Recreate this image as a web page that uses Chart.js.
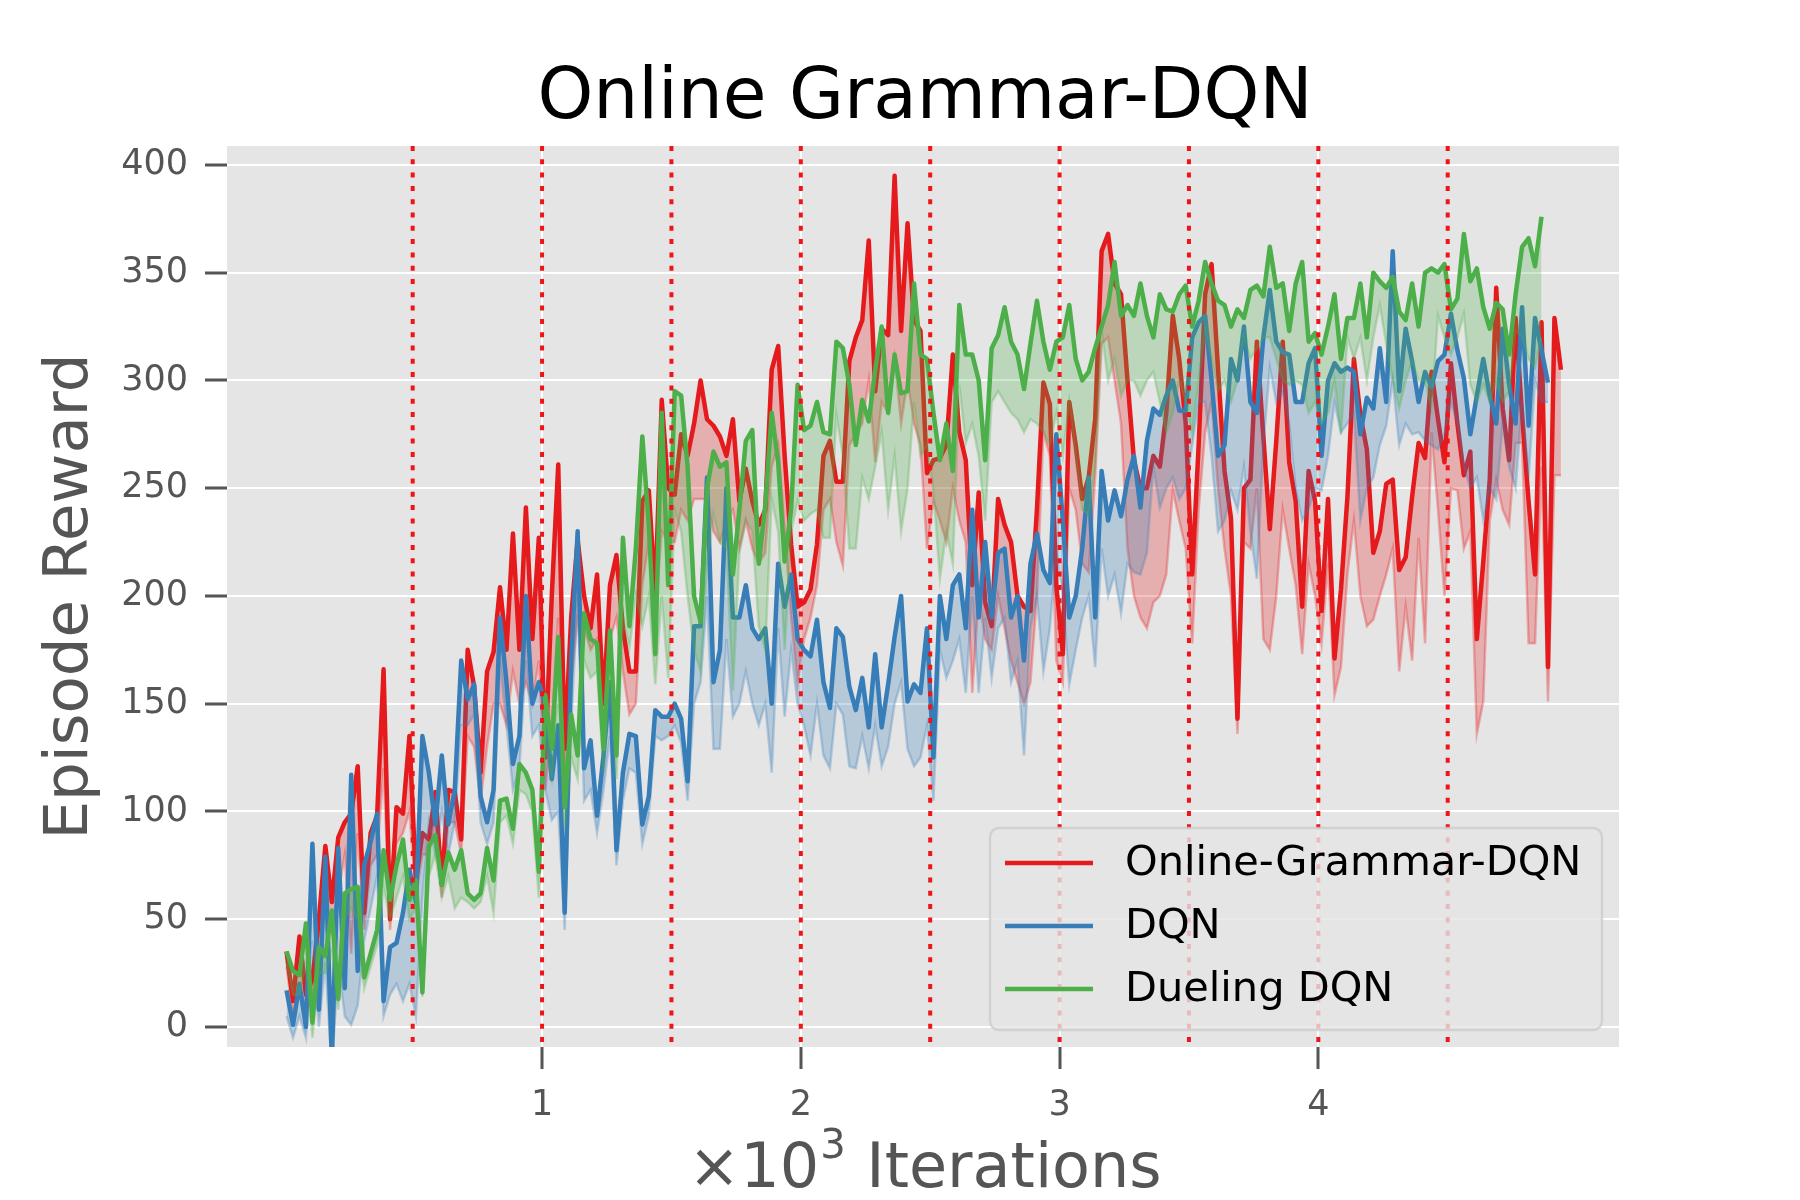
<!DOCTYPE html>
<html>
<head>
<meta charset="utf-8">
<script src="https://cdn.jsdelivr.net/npm/chart.js@4.4.0/dist/chart.umd.min.js"></script>
<style>
  html, body { margin: 0; padding: 0; background: #ffffff; }
  #wrap { width: 1800px; height: 1200px; }
</style>
</head>
<body>
<div id="wrap"><canvas id="rewardChart" width="1800" height="1200"></canvas></div>
<script>
// one logged point every 25 iterations, x axis is in thousands of iterations
const stepK = 0.025;
const startK = 0.0125;

// Online-Grammar-DQN: mean reward and lower edge of the shaded band
const grammarReward = [35,12,42,15,22,50,84,58,88,95,99,121,53,90,98,166,50,102,99,135,68,90,87,109,66,110,109,87,175,158,118,165,174,
  204,175,229,175,241,180,227,125,200,261,129,190,226,200,185,210,150,205,219,185,165,165,244,249,200,291,250,247,275,265,280,300,282,
  279,274,265,282,244,259,244,233,240,305,316,265,224,195,197,203,224,265,272,253,253,309,320,328,365,295,324,321,395,323,373,328,323,257,
  263,264,270,312,276,263,205,248,197,186,245,233,225,200,195,193,240,299,289,205,173,290,270,245,255,282,360,368,345,340,300,263,250,250,
  265,260,285,330,310,280,210,270,340,354,305,258,236,143,250,254,318,274,231,272,318,262,244,195,258,244,193,245,171,203,246,310,284,268,
  220,230,252,254,212,218,246,271,264,304,282,262,308,280,256,267,180,216,254,343,287,263,329,284,244,210,327,167,329,305];
const grammarLow = [28,5,18,8,15,40,60,45,62,80,34,90,45,75,80,120,45,85,90,100,60,80,80,95,60,95,95,80,135,130,105,130,150,
  150,140,165,150,160,150,170,110,140,190,115,160,190,185,175,180,140,180,190,165,145,150,205,225,190,230,225,225,240,235,245,245,245,
  230,225,235,240,222,235,222,215,220,260,270,230,190,160,180,190,205,240,245,225,214,270,275,280,300,262,290,285,310,280,300,280,270,222,
  244,235,225,250,235,225,155,200,180,175,200,185,170,160,150,160,200,276,265,170,160,250,240,215,211,255,317,320,300,280,222,200,190,185,
  197,200,210,249,235,222,178,240,276,290,250,222,200,136,225,222,250,180,175,200,240,222,205,173,215,200,178,215,154,167,210,235,200,186,
  189,200,210,222,165,195,170,227,178,276,240,200,250,249,222,230,136,151,235,254,240,233,271,271,178,178,260,151,256,256];

// DQN
const dqnReward = [17,1,20,0,85,8,79,-15,83,18,117,26,75,86,99,12,37,39,53,73,58,135,118,94,126,94,110,170,152,159,107,95,110,
  190,160,122,135,200,150,160,150,115,140,53,170,230,120,133,98,126,160,82,118,136,135,94,107,147,144,144,150,143,114,186,186,255,
  160,175,250,190,190,205,185,180,185,150,215,195,210,180,175,172,189,160,148,185,181,158,147,162,139,173,139,159,181,200,151,159,155,185,
  125,200,180,205,210,185,240,190,225,190,220,222,190,200,170,215,229,212,206,275,235,190,200,222,255,190,258,235,249,237,254,265,241,272,
  287,284,293,300,286,286,320,327,330,300,265,270,310,300,325,290,285,320,342,318,313,312,290,290,308,315,265,300,308,304,306,304,275,292,287,315,
  290,360,295,324,309,290,304,297,309,312,331,314,301,275,293,310,293,280,324,298,280,334,279,329,314,299];
const dqnLow = [5,-5,5,-5,40,0,30,-20,30,5,1,10,40,55,70,5,15,20,12,20,5,60,95,80,100,80,95,140,140,145,95,85,95,
  170,140,110,120,170,135,140,110,96,100,45,140,200,105,110,90,110,135,75,105,120,118,85,98,135,133,135,140,132,105,150,160,200,
  129,129,180,144,150,165,150,140,150,118,185,144,175,150,140,126,150,126,120,150,145,121,120,135,120,140,121,130,150,160,129,121,125,140,
  105,175,162,170,180,155,200,155,190,162,185,190,160,170,126,185,200,165,185,220,200,159,175,190,200,167,222,200,210,192,215,211,210,220,
  260,241,250,255,245,250,270,290,290,265,230,235,249,240,260,230,208,270,306,290,295,280,250,235,240,250,249,265,290,276,280,285,235,250,255,270,
  279,300,270,280,275,276,272,270,268,275,290,280,260,250,255,235,250,245,280,260,250,290,255,300,290,290];

// Dueling DQN
const duelingReward = [35,26,24,48,2,37,33,54,13,62,64,65,23,34,45,82,59,75,87,59,68,16,84,89,66,81,73,82,62,59,62,83,68,
  105,106,92,122,118,110,72,154,129,181,102,145,126,192,180,178,129,184,126,227,186,222,274,233,173,285,205,295,293,260,200,188,250,
  267,260,262,210,240,272,277,215,242,285,262,216,240,298,277,279,290,276,275,318,315,298,270,291,281,305,325,285,312,294,295,345,312,310,
  285,263,280,258,335,312,312,300,263,315,321,334,318,312,296,317,337,318,305,318,320,335,310,300,304,315,325,335,355,330,335,330,345,330,
  320,340,333,332,340,344,325,337,355,345,337,335,325,333,329,342,344,339,362,343,345,323,345,355,318,322,312,325,340,310,329,329,345,320,350,346,
  343,348,332,328,345,325,350,352,350,354,333,338,368,346,352,334,324,336,333,312,340,362,366,353,376];
const duelingLow = [30,15,15,30,-5,25,25,35,8,50,55,50,18,28,38,65,50,60,70,50,55,14,70,80,60,70,55,60,58,55,58,70,53,
  95,98,85,110,108,100,60,130,115,150,92,125,115,170,162,165,118,160,115,190,176,200,186,200,159,200,162,240,230,200,175,165,215,
  238,225,222,156,220,235,230,186,175,245,230,175,230,244,235,238,240,227,227,284,265,222,222,255,245,260,276,240,265,230,250,290,265,270,
  249,208,230,215,298,271,280,265,235,290,295,290,285,282,276,282,280,276,270,285,265,290,265,240,238,260,323,300,310,293,300,300,293,300,
  304,290,276,285,300,290,275,300,323,310,295,300,290,300,320,310,315,320,320,310,300,298,300,298,285,290,280,285,300,275,320,310,320,300,320,335,
  317,300,287,300,309,300,300,287,330,320,312,320,331,298,290,298,290,300,290,295,323,320,310,306,320];

const seriesNames = ['Online-Grammar-DQN', 'DQN', 'Dueling DQN'];
const seriesColors = ['228,26,28', '55,126,184', '77,175,74'];
const xTickValues = [1, 2, 3, 4];
const yTickValues = [0, 50, 100, 150, 200, 250, 300, 350, 400];
const markerIters = [0.5, 1, 1.5, 2, 2.5, 3, 3.5, 4, 4.5];

const FONT = '"DejaVu Sans", sans-serif';

function toPoints(arr) {
  return arr.map((v, i) => ({ x: startK + stepK * i, y: v }));
}

function meanSet(i, data, order) {
  return {
    label: seriesNames[i],
    data: toPoints(data),
    borderColor: 'rgb(' + seriesColors[i] + ')',
    borderWidth: 4.5,
    borderJoinStyle: 'round',
    pointRadius: 0,
    fill: false,
    order: order
  };
}

function bandSet(i, data, target, order) {
  return {
    label: seriesNames[i] + ' band',
    data: toPoints(data),
    borderColor: 'rgba(' + seriesColors[i] + ',0.3)',
    borderWidth: 2.5,
    backgroundColor: 'rgba(' + seriesColors[i] + ',0.27)',
    pointRadius: 0,
    fill: { target: target },
    order: order
  };
}

// grey ggplot panel
const plotBackground = {
  id: 'plotBackground',
  beforeDraw(chart) {
    const { ctx, chartArea: a } = chart;
    ctx.save();
    ctx.fillStyle = '#e5e5e5';
    ctx.fillRect(a.left, a.top, a.width, a.height);
    ctx.restore();
  }
};

// red dotted verticals every 500 iterations
const markerLines = {
  id: 'markerLines',
  afterDatasetsDraw(chart) {
    const { ctx, chartArea: a, scales } = chart;
    ctx.save();
    ctx.strokeStyle = '#ee1418';
    ctx.lineWidth = 4;
    ctx.setLineDash([5, 8.3]);
    markerIters.forEach(v => {
      const px = scales.x.getPixelForValue(v);
      ctx.beginPath();
      ctx.moveTo(px, a.top);
      ctx.lineTo(px, a.bottom);
      ctx.stroke();
    });
    ctx.restore();
  }
};

const labelsAndLegend = {
  id: 'labelsAndLegend',
  afterDraw(chart) {
    const { ctx, chartArea: a } = chart;
    const cx = (a.left + a.right) / 2;
    ctx.save();

    // title
    ctx.fillStyle = '#000000';
    ctx.font = '71px ' + FONT;
    ctx.textAlign = 'center';
    ctx.textBaseline = 'alphabetic';
    ctx.fillText('Online Grammar-DQN', cx + 2, 118);

    // x label with superscript
    ctx.fillStyle = '#555555';
    const big = '62px ' + FONT, small = '40px ' + FONT;
    ctx.font = big;
    const w1 = ctx.measureText('\u00d710').width;
    const w3 = ctx.measureText(' Iterations').width;
    ctx.font = small;
    const w2 = ctx.measureText('3').width + 2;
    let x0 = cx - (w1 + w2 + w3) / 2 + 2;
    const base = 1187;
    ctx.textAlign = 'left';
    ctx.font = big;
    ctx.fillText('\u00d710', x0, base);
    ctx.font = small;
    ctx.fillText('3', x0 + w1 + 1, base - 29);
    ctx.font = big;
    ctx.fillText(' Iterations', x0 + w1 + w2, base);

    // y label
    ctx.save();
    ctx.translate(71, (a.top + a.bottom) / 2);
    ctx.rotate(-Math.PI / 2);
    ctx.textAlign = 'center';
    ctx.textBaseline = 'middle';
    ctx.font = '61px ' + FONT;
    ctx.fillText('Episode Reward', 0, 0);
    ctx.restore();

    // legend box, lower right
    const bx = a.right - 629, by = a.bottom - 219, bw = 612, bh = 202;
    ctx.beginPath();
    ctx.roundRect(bx, by, bw, bh, 9);
    ctx.fillStyle = 'rgba(229,229,229,0.8)';
    ctx.fill();
    ctx.strokeStyle = 'rgba(204,204,204,0.8)';
    ctx.lineWidth = 2.5;
    ctx.stroke();

    ctx.font = '41.5px ' + FONT;
    ctx.textAlign = 'left';
    ctx.textBaseline = 'middle';
    seriesNames.forEach((name, i) => {
      const ly = by + 35 + i * 63;
      ctx.strokeStyle = 'rgb(' + seriesColors[i] + ')';
      ctx.lineWidth = 4.5;
      ctx.beginPath();
      ctx.moveTo(bx + 15, ly);
      ctx.lineTo(bx + 103, ly);
      ctx.stroke();
      ctx.fillStyle = '#000000';
      ctx.fillText(name, bx + 135, ly + 1);
    });

    ctx.restore();
  }
};

const gridStyle = {
  color: '#ffffff',
  lineWidth: 2,
  drawTicks: true,
  tickLength: 22,
  tickWidth: 3,
  tickColor: '#555555'
};

new Chart(document.getElementById('rewardChart'), {
  type: 'line',
  data: {
    datasets: [
      meanSet(0, grammarReward, 5),
      bandSet(0, grammarLow, 0, 6),
      meanSet(1, dqnReward, 3),
      bandSet(1, dqnLow, 2, 4),
      meanSet(2, duelingReward, 1),
      bandSet(2, duelingLow, 4, 2)
    ]
  },
  options: {
    responsive: false,
    animation: false,
    devicePixelRatio: 1,
    layout: { padding: { top: 146, right: 181, bottom: 0, left: 0 } },
    plugins: {
      legend: { display: false },
      title: { display: false },
      tooltip: { enabled: false }
    },
    scales: {
      x: {
        type: 'linear',
        min: -0.2176,
        max: 5.162,
        afterBuildTicks: s => { s.ticks = xTickValues.map(v => ({ value: v })); },
        afterFit: s => { s.height = 153; },
        grid: gridStyle,
        border: { display: false },
        ticks: {
          color: '#555555',
          font: { family: FONT, size: 35 },
          padding: 16,
          maxRotation: 0,
          callback: v => String(v)
        }
      },
      y: {
        type: 'linear',
        min: -9.3,
        max: 408.8,
        afterBuildTicks: s => { s.ticks = yTickValues.map(v => ({ value: v })); },
        afterFit: s => { s.width = 227; },
        grid: gridStyle,
        border: { display: false },
        ticks: {
          color: '#555555',
          font: { family: FONT, size: 35 },
          padding: 17,
          callback: v => String(v)
        }
      }
    }
  },
  plugins: [plotBackground, markerLines, labelsAndLegend]
});
</script>
</body>
</html>
